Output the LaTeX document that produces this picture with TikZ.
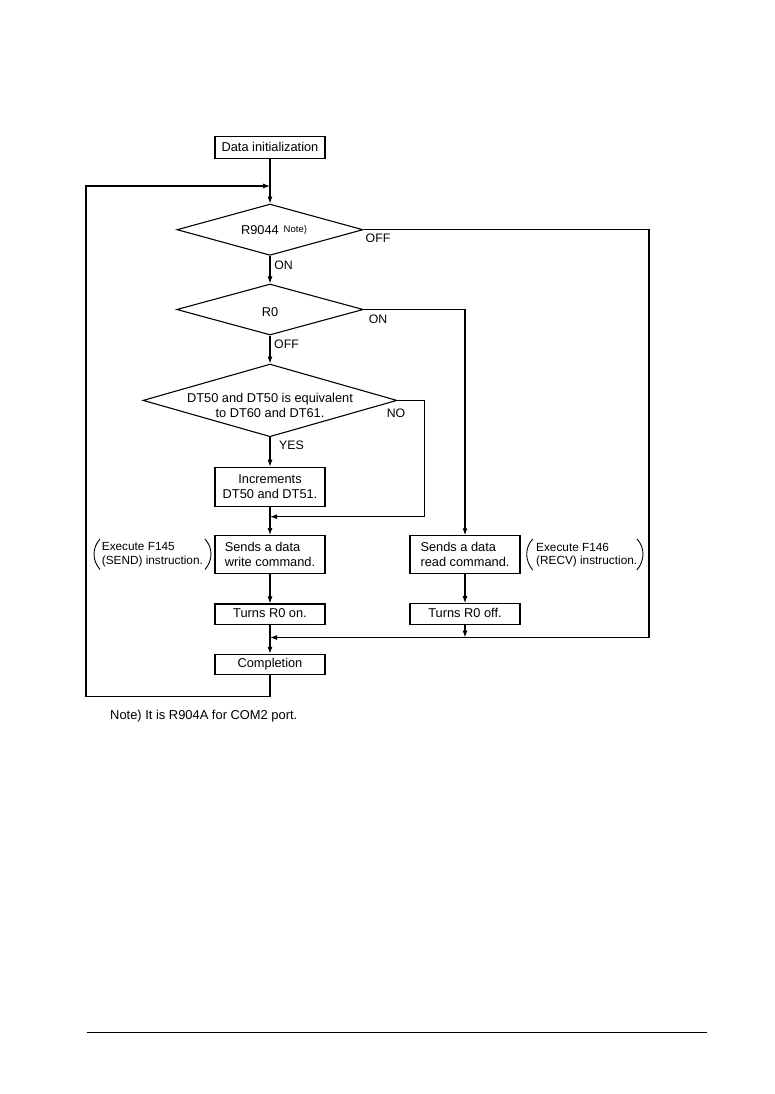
\documentclass[tikz,border=0pt]{standalone}
\usepackage{fontspec}
\setmainfont{Liberation Sans}
\usetikzlibrary{shapes.geometric,arrows.meta,calc}
\begin{document}
\begin{tikzpicture}[x=1pt,y=-1pt]
\tikzset{
 ln/.style={line width=1.1pt},
 proc/.style={draw, line width=1.1pt, minimum width=110pt, inner sep=0pt, font=\fontsize{12.8}{15}\selectfont},
 one/.style={proc, text height=9.4pt, text depth=2.6pt},
 dec/.style={draw, line width=1.1pt, shape=diamond, inner sep=0pt},
 lab/.style={font=\fontsize{12.3}{14}\selectfont, inner sep=0pt},
 ann/.style={font=\fontsize{11.8}{13.8}\selectfont, align=left, inner sep=0pt},
 arr/.style={line width=1.1pt, -{Latex[length=7pt,width=5pt]}},
 par/.style={line width=0.9pt}
}
\useasboundingbox (0,0) rectangle (774,1094);

% process boxes
\node[one, minimum height=22.5pt] (init) at (270,147.7) {Data initialization};
\node[proc, align=center, minimum height=39pt] (inc) at (270,486.7) {Increments\\DT50 and DT51.};
\node[proc, align=left, minimum height=38pt] (write) at (270,554.6) {Sends a data\\write command.};
\node[proc, align=left, minimum height=38pt] (read) at (465,554.8) {Sends a data\\read command.};
\node[one, minimum height=20.6pt] (on) at (270,614.3) {Turns R0 on.};
\node[one, minimum height=20.6pt] (off) at (465,614) {Turns R0 off.};
\node[one, minimum height=19.7pt] (comp) at (270,664.2) {Completion};

% decisions
\node[dec, minimum width=186pt, minimum height=51.3pt] (d1) at (270,229.7) {};
\node[dec, minimum width=186.6pt, minimum height=51pt] (d2) at (270,309.5) {};
\node[dec, minimum width=254pt, minimum height=72.7pt] (d3) at (270,400.4) {};
\node[font=\fontsize{12.8}{15}\selectfont, inner sep=0pt, anchor=base] (d1t) at (274,234.5)
  {R9044\hspace{5pt}\raisebox{2.2pt}{\fontsize{9.5}{10}\selectfont Note)}};
\node[font=\fontsize{12.8}{15}\selectfont, inner sep=0pt, anchor=base] (d2t) at (270,316.3) {R0};
\node[font=\fontsize{12.8}{15.4}\selectfont, inner sep=0pt, align=center] (d3t) at (270,405.5)
  {DT50 and DT50 is equivalent\\to DT60 and DT61.};

% connector labels
\node[lab] (l1) at (378,238) {OFF};
\node[lab] (l2) at (283.5,265) {ON};
\node[lab] (l3) at (378,319) {ON};
\node[lab] (l4) at (286.5,344) {OFF};
\node[lab] (l5) at (396,413) {NO};
\node[lab] (l6) at (291.5,445) {YES};

% annotations
\node[ann, anchor=west] (a1) at (101.7,555) {Execute F145\\(SEND) instruction.};
\node[ann, anchor=west] (a2) at (536,555) {Execute F146\\(RECV) instruction.};
\draw[par] (100,539) .. controls (92,548) and (92,560) .. (100,569.5);
\draw[par] (205,539) .. controls (213,548) and (213,560) .. (205,569.5);
\draw[par] (532.7,539) .. controls (524.7,548) and (524.7,560) .. (532.7,570);
\draw[par] (637,539) .. controls (645,548) and (645,560) .. (637,570);

% coordinates
\coordinate (m1) at (270,516.7);
\coordinate (m1r) at (424.5,516.7);
\coordinate (m2) at (270,637.5);
\coordinate (m2r) at (649,637.5);
\coordinate (m2c) at (465,637.5);
\coordinate (lb) at (270,696.5);
\coordinate (lbl) at (86,696.5);
\coordinate (lt) at (270,186);

% connectors
\draw[arr] (init) -- (d1);
\draw[arr] (d1) -- (d2);
\draw[arr] (d2) -- (d3);
\draw[arr] (d3) -- (inc);
\draw[arr] (inc) -- (write);
\draw[arr] (write) -- (on);
\draw[arr] (on) -- (comp);
\draw[arr] (read) -- (off);
\draw[arr] (off) -- (m2c);
\draw[arr] (d1.east) -| (m2r) -- (m2);
\draw[arr] (d2.east) -| (read);
\draw[arr] (d3.east) -| (m1r) -- (m1);
\draw[arr] (comp) -- (lb) -| (lt -| lbl) -- (lt);

% note and rule
\node[font=\fontsize{12.9}{15}\selectfont, inner sep=0pt, anchor=base west] (note) at (110,719) {Note) It is R904A for COM2 port.};
\draw[ln] (86.7,1032.3) -- (706.7,1032.3);
\end{tikzpicture}
\end{document}
